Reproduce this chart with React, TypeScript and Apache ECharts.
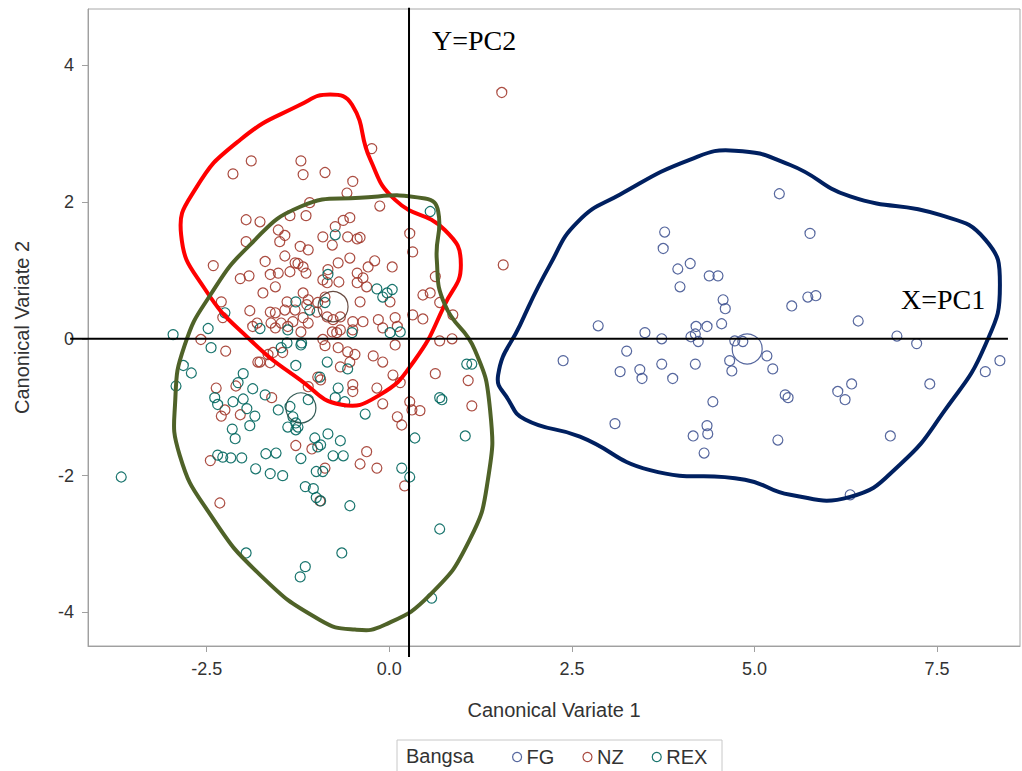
import React, { useEffect, useRef } from "react";
import * as echarts from "echarts";

// ---------- data ----------
const groupNames = ["FG", "NZ", "REX"];
const groupColors = ["#445694", "#A23A2E", "#01665E"];

const fgPoints: [number, number][] = [
  [3.77, 1.56], [3.75, 1.32], [3.95, 1.02], [4.12, 1.10], [3.98, 0.76], [4.38, 0.92], [4.50, 0.92],
  [4.57, 0.57], [4.60, 0.44], [4.55, 0.22], [4.35, 0.18], [4.20, 0.18], [4.19, 0.07], [4.13, 0.03],
  [4.23, -0.04], [2.86, 0.19], [3.50, 0.09], [3.73, 0.00], [3.25, -0.18], [2.38, -0.32], [3.16, -0.48],
  [3.43, -0.45], [3.46, -0.58], [3.73, -0.37], [3.88, -0.58], [4.19, -0.37], [4.73, -0.03], [4.84, -0.04],
  [4.66, -0.32], [4.69, -0.47], [5.17, -0.25], [5.25, -0.44], [4.43, -0.92], [3.09, -1.24], [4.35, -1.27],
  [4.36, -1.39], [4.16, -1.42], [4.31, -1.67], [5.34, 2.12], [5.32, -1.48], [5.76, 1.54], [5.51, 0.48],
  [5.73, 0.61], [5.84, 0.63], [6.42, 0.26], [6.95, 0.04], [7.22, -0.07], [5.42, -0.82], [5.46, -0.86],
  [6.14, -0.77], [6.24, -0.89], [6.33, -0.66], [7.40, -0.66], [8.16, -0.48], [8.36, -0.32], [6.86, -1.42],
  [6.31, -2.28],
];

const nzPoints: [number, number][] = [
  [-1.89, 2.60], [-2.14, 2.41], [-1.21, 2.60], [-1.18, 2.40], [-0.88, 2.43], [-1.09, 1.99], [-1.14, 1.80],
  [-1.36, 1.80], [-1.96, 1.74], [-1.77, 1.71], [-1.52, 1.59], [-1.43, 1.51], [-1.96, 1.42], [-1.50, 1.42],
  [-0.91, 1.49], [-1.22, 1.35], [-1.11, 1.30], [-1.43, 1.21], [-2.41, 1.07], [-1.70, 1.13], [-2.04, 0.88],
  [-1.92, 0.92], [-1.63, 0.94], [-1.52, 0.96], [-1.36, 0.98], [-1.25, 1.10], [-1.14, 0.96], [-1.56, 0.76],
  [-1.73, 0.67], [-1.18, 0.67], [-1.11, 0.57], [-0.98, 0.53], [-2.30, 0.54], [-1.91, 0.41], [-1.63, 0.39],
  [-1.56, 0.38], [-1.43, 0.42], [-1.29, 0.42], [-2.28, 0.31], [-1.62, 0.23], [-1.48, 0.23], [-1.87, 0.18],
  [-1.32, 0.25], [-1.21, 0.10], [-2.58, -0.01], [-1.56, 0.16], [-1.39, 0.18],
  [-0.24, 2.78], [-0.50, 2.30], [-0.58, 2.13], [-0.13, 1.94], [0.28, 1.54], [0.32, 1.27], [-0.54, 1.77],
  [-0.63, 1.73], [-0.74, 1.64], [-0.57, 1.49], [-0.44, 1.46], [-0.40, 1.48], [-0.78, 1.37], [-1.29, 1.11],
  [-1.18, 1.05], [-0.84, 1.01], [-0.70, 1.11], [-0.54, 1.18], [-0.20, 1.14], [-0.29, 1.05], [0.04, 1.05],
  [-0.91, 0.86], [-0.85, 0.82], [-0.69, 0.83], [-0.44, 0.96], [-0.36, 0.89], [-0.44, 0.82], [-0.31, 0.76],
  [-0.88, 0.61], [-0.40, 0.54], [0.01, 0.54], [0.63, 0.91], [0.46, 0.64], [0.56, 0.67], [0.32, 0.35],
  [0.46, 0.29], [0.69, 0.53], [0.87, 0.35], [-1.40, 0.54], [-1.13, 0.50], [-0.99, 0.39], [-1.81, 0.23],
  [-1.18, 0.31], [-1.11, 0.23], [-0.85, 0.32], [-0.77, 0.28], [-0.67, 0.32], [-0.50, 0.25], [-0.36, 0.25],
  [-0.15, 0.28], [0.08, 0.31], [-0.67, 0.13], [-0.50, 0.13], [-0.09, 0.16], [0.11, 0.18], [-0.78, 0.10],
  [-0.91, -0.01], [-0.72, 0.09], [0.69, -0.03], [0.86, 0.00],
  [-2.24, -0.18], [-2.37, -0.72], [-2.30, -1.13], [-2.25, -1.04], [-2.04, -1.11], [-2.10, -0.69],
  [-1.61, -0.86], [-2.45, -1.78], [-2.32, -2.40], [-1.28, -1.56], [-0.98, -0.56], [-0.94, -0.60],
  [-1.80, -0.34], [-1.66, -0.23], [-0.88, -1.89],
  [0.63, -0.51], [1.08, -0.61], [1.13, -0.98], [0.28, -0.92], [0.31, -1.04], [0.42, -1.05], [0.11, -1.14],
  [0.17, -1.26], [-0.09, -0.95], [-0.17, -0.72], [-0.50, -0.67], [-0.50, -0.77], [0.15, -0.64], [0.05, -0.53],
  [-0.09, -0.34], [-0.22, -0.25], [0.08, -0.09], [-0.47, -0.23], [-0.57, -0.19], [-0.54, -0.34], [-0.67, -0.41],
  [-0.70, -0.13], [-0.88, -0.10], [-1.11, -0.70], [-1.06, -1.61], [-0.31, -1.65], [-0.40, -1.83], [-0.17, -1.89],
  [0.21, -2.15], [-0.95, -2.37], [-1.59, -0.20], [-1.77, -0.34], [-1.63, -0.35], [-1.46, -0.20],
  [1.54, 3.60], [1.56, 1.08],
];

const rexPoints: [number, number][] = [
  [-2.96, 0.06], [-2.48, 0.15], [-2.25, 0.38], [-1.28, 0.54], [-1.77, 0.15], [-1.39, 0.13], [-1.09, 0.42],
  [-0.88, 0.53], [-2.44, -0.13], [0.56, 1.86], [-0.74, 1.52], [-0.84, 0.94], [-0.17, 0.73], [-0.03, 0.67],
  [0.04, 0.72], [-0.09, 0.61], [-0.51, 0.09], [0.01, 0.09], [0.15, 0.10], [-1.20, -0.06], [-1.40, -0.06],
  [-2.82, -0.39], [-2.71, -0.50], [-2.92, -0.69], [-2.00, -0.51], [-2.07, -0.64], [-1.87, -0.73], [-1.70, -0.82],
  [-2.39, -0.86], [-2.35, -0.96], [-2.14, -0.92], [-2.00, -0.88], [-1.95, -1.02], [-1.84, -1.13], [-1.52, -1.04],
  [-1.36, -0.99], [-1.32, -1.14], [-1.28, -1.23], [-1.25, -1.29], [-1.39, -1.29], [-1.28, -1.33], [-1.91, -1.27],
  [-2.15, -1.32], [-2.11, -1.46], [-2.35, -1.70], [-2.28, -1.73], [-2.17, -1.74], [-2.02, -1.74], [-1.69, -1.68],
  [-1.55, -1.67], [-1.28, -0.39], [-1.48, -0.13], [-1.21, -0.09], [-1.83, -1.90], [-1.63, -1.97], [-1.46, -2.00],
  [-1.21, -1.75], [-1.02, -1.45], [-0.98, -1.58], [-0.94, -1.55], [-1.00, -1.94], [-0.91, -1.94], [-1.15, -2.16],
  [-1.04, -2.19], [-1.00, -2.32], [-0.94, -2.37], [-3.67, -2.02], [-1.11, -0.89],
  [-0.85, -0.34], [-0.70, -0.72], [-0.61, -0.92], [-0.74, -0.86], [-0.33, -1.10], [-0.84, -1.39], [-0.67, -1.49],
  [-0.77, -1.71], [-0.63, -1.71], [-0.54, -2.44], [0.17, -1.89], [0.28, -2.02], [0.35, -1.45], [0.69, -0.86],
  [0.72, -0.89], [1.04, -1.42], [1.06, -0.37], [1.13, -0.37], [0.69, -2.78], [-0.57, -0.44], [-0.95, -0.56],
  [-1.96, -3.13], [-1.22, -3.48], [-1.15, -3.33], [-0.65, -3.13], [0.58, -3.79],
];

const fgCentroid: [number, number][] = [[4.90, -0.15]];
const nzCentroid: [number, number][] = [[-0.77, 0.47]];
const rexCentroid: [number, number][] = [[-1.21, -1.01]];

// hand-drawn enclosing curves (data coordinates)
const redCurve: [number, number][] = [
  [-2.85, 1.52], [-2.66, 2.18], [-2.04, 2.91], [-1.22, 3.42], [-0.81, 3.57], [-0.51, 3.42], [-0.26, 2.62],
  [0.08, 2.03], [0.76, 1.59], [0.98, 1.08], [0.76, 0.50], [0.35, -0.31], [-0.13, -0.82], [-0.67, -0.96],
  [-1.22, -0.60], [-1.91, -0.01], [-2.52, 0.72],
];
const greenCurve: [number, number][] = [
  [-1.22, 1.93], [-0.40, 2.06], [0.49, 2.05], [0.67, 1.86], [0.65, 1.16], [0.76, 0.50], [1.17, -0.16],
  [1.38, -1.04], [1.35, -2.06], [1.10, -2.94], [0.56, -3.74], [-0.06, -4.18], [-0.47, -4.25], [-0.95, -4.11],
  [-1.77, -3.45], [-2.45, -2.57], [-2.87, -1.70], [-2.93, -0.89], [-2.80, -0.09], [-2.45, 0.64], [-1.91, 1.37],
];
const navyCurve: [number, number][] = [
  [1.49, -0.53], [1.79, 0.20], [2.20, 1.08], [2.58, 1.71], [3.16, 2.11], [4.12, 2.62], [4.73, 2.75],
  [5.49, 2.54], [6.31, 2.08], [7.54, 1.81], [8.16, 1.45], [8.36, 0.79], [8.16, -0.09], [7.61, -1.04],
  [6.99, -1.84], [6.31, -2.31], [5.49, -2.28], [4.87, -2.06], [3.57, -1.92], [2.61, -1.43], [1.86, -1.18],
  [1.63, -0.89],
];
const curveColors = ["#FF0000", "#4F6228", "#002060"];

const xTicks = [-2.5, 0, 2.5, 5, 7.5];
const yTicks = [-4, -2, 0, 2, 4];

// reference lines (axes of PCs)
const crossX = 0.27;
const crossY = 0;
const vLineSpan = [4.84, -4.65];
const hLineSpan = [-4.37, 8.47];

const sans = "'Liberation Sans', Arial, sans-serif";
const serif = "'Liberation Serif', 'Times New Roman', serif";

export default function App() {
  const ref = useRef<HTMLDivElement>(null);

  useEffect(() => {
    if (!ref.current) return;
    const chart = echarts.init(ref.current, null, { renderer: "svg" });

    const scatter = (name: string, data: [number, number][], color: string, size: number, z = 2) => ({
      type: "scatter",
      name,
      data,
      symbol: "circle",
      symbolSize: size,
      z,
      silent: true,
      itemStyle: { color: "rgba(0,0,0,0)", borderColor: color, borderWidth: 1.2, opacity: 0.9 },
    });

    const curve = (pts: [number, number][], color: string) => ({
      type: "custom",
      silent: true,
      z: 5,
      clip: false,
      data: [[0, 0]],
      renderItem: (_p: any, api: any) => ({
        type: "polygon",
        shape: { points: pts.map((p) => api.coord(p)), smooth: 0.5 },
        style: { fill: "none", stroke: color, lineWidth: 4 },
      }),
    });

    chart.setOption({
      animation: false,
      backgroundColor: "#fff",
      grid: {
        left: 88,
        right: 2,
        top: 9,
        bottom: 125,
        show: true,
        borderColor: "#a8a8a8",
        borderWidth: 1,
        backgroundColor: "transparent",
      },
      xAxis: {
        type: "value",
        min: -4.125,
        max: 8.635,
        name: "Canonical Variate 1",
        nameLocation: "middle",
        nameGap: 54,
        nameTextStyle: { fontSize: 20, color: "#333", fontFamily: sans },
        axisLine: { show: true, onZero: false, lineStyle: { color: "#a0a0a0", width: 1 } },
        axisTick: { show: true, length: 6, customValues: xTicks, lineStyle: { color: "#a0a0a0" } },
        axisLabel: {
          customValues: xTicks,
          margin: 14,
          fontSize: 18,
          color: "#333",
          fontFamily: sans,
          formatter: (v: number) => v.toFixed(1),
        },
        splitLine: { show: false },
      },
      yAxis: {
        type: "value",
        min: -4.49,
        max: 4.82,
        name: "Canonical Variate 2",
        nameLocation: "middle",
        nameGap: 56,
        nameTextStyle: { fontSize: 20, color: "#333", fontFamily: sans },
        axisLine: { show: true, onZero: false, lineStyle: { color: "#a0a0a0", width: 1 } },
        axisTick: { show: true, length: 6, customValues: yTicks, lineStyle: { color: "#a0a0a0" } },
        axisLabel: {
          customValues: yTicks,
          margin: 14,
          fontSize: 18,
          color: "#333",
          fontFamily: sans,
          formatter: (v: number) => String(v),
        },
        splitLine: { show: false },
      },
      legend: {
        left: 512,
        top: 747,
        padding: 0,
        itemWidth: 9,
        itemHeight: 9,
        itemGap: 28,
        selectedMode: false,
        textStyle: { fontSize: 20, color: "#333", fontFamily: sans },
        data: groupNames.map((n, i) => ({
          name: n,
          icon: "circle",
          itemStyle: { color: "rgba(0,0,0,0)", borderColor: groupColors[i], borderWidth: 1.2 },
        })),
      },
      series: [
        scatter("FG", fgPoints, groupColors[0], 10),
        scatter("NZ", nzPoints, groupColors[1], 10),
        scatter("REX", rexPoints, groupColors[2], 10),
        scatter("FG mean", fgCentroid, groupColors[0], 30, 3),
        scatter("NZ mean", nzCentroid, "#5a3a30", 30, 3),
        scatter("REX mean", rexCentroid, "#1f4a44", 30, 3),
        curve(redCurve, curveColors[0]),
        curve(greenCurve, curveColors[1]),
        curve(navyCurve, curveColors[2]),
      ],
    });

    const vTop = chart.convertToPixel({ gridIndex: 0 }, [crossX, vLineSpan[0]]) as number[];
    const vBot = chart.convertToPixel({ gridIndex: 0 }, [crossX, vLineSpan[1]]) as number[];
    const hL = chart.convertToPixel({ gridIndex: 0 }, [hLineSpan[0], crossY]) as number[];
    const hR = chart.convertToPixel({ gridIndex: 0 }, [hLineSpan[1], crossY]) as number[];

    chart.setOption({
      graphic: [
        {
          type: "line",
          z: 10,
          silent: true,
          shape: { x1: vTop[0], y1: vTop[1], x2: vBot[0], y2: vBot[1] },
          style: { stroke: "#000", lineWidth: 2 },
        },
        {
          type: "line",
          z: 10,
          silent: true,
          shape: { x1: hL[0], y1: hL[1], x2: hR[0], y2: hR[1] },
          style: { stroke: "#000", lineWidth: 2 },
        },
        {
          type: "text",
          z: 10,
          left: 432,
          top: 26,
          style: { text: "Y=PC2", fontSize: 28, fontFamily: serif, fill: "#000" },
        },
        {
          type: "text",
          z: 10,
          left: 901,
          top: 285,
          style: { text: "X=PC1", fontSize: 28, fontFamily: serif, fill: "#000" },
        },
        {
          type: "rect",
          z: 10,
          silent: true,
          shape: { x: 397, y: 740, width: 325, height: 40 },
          style: { fill: "none", stroke: "#c8c8c8", lineWidth: 1 },
        },
        {
          type: "text",
          z: 10,
          left: 406,
          top: 746,
          style: { text: "Bangsa", fontSize: 20, fontFamily: sans, fill: "#333" },
        },
      ],
    });

    return () => chart.dispose();
  }, []);

  return (
    <div
      ref={ref}
      style={{ position: "fixed", left: 0, top: 0, width: 1022, height: 771 }}
    />
  );
}
